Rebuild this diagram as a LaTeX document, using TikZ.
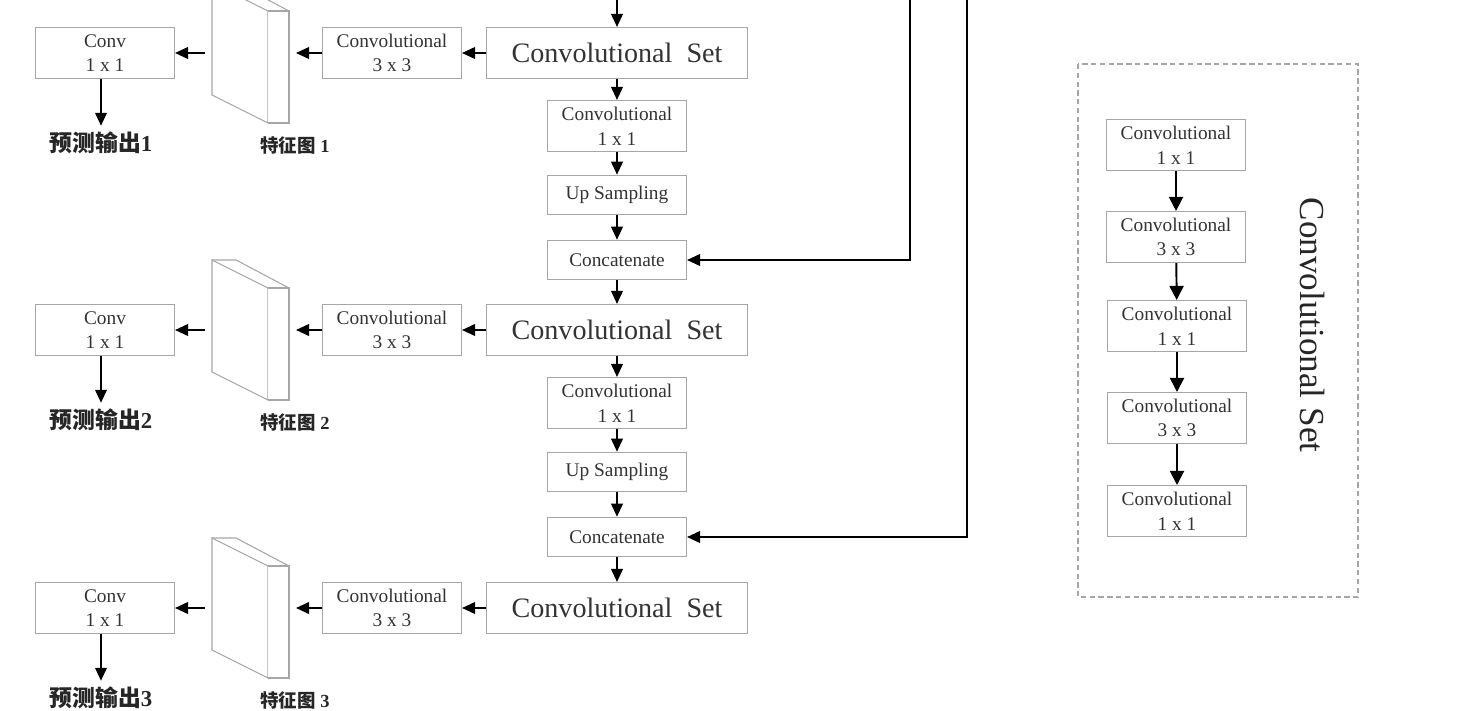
\documentclass[tikz,border=0pt]{standalone}
\usepackage{fontspec}
\setmainfont{Liberation Serif}
\newfontfamily\cjk{Noto Sans CJK SC}
\usepackage{tikz}
\usetikzlibrary{arrows.meta, positioning}
\begin{document}
\begin{tikzpicture}[x=0.02cm, y=-0.02cm,
    box/.style={draw=gray!70, line width=0.6pt, fill=white, text=black!80, align=center,
        minimum width=2.78cm, minimum height=1.02cm, inner sep=0pt,
        font=\fontsize{11}{14}\selectfont},
    setbox/.style={box, minimum width=5.22cm, font=\fontsize{16}{18}\selectfont},
    thinbox/.style={box, minimum height=0.79cm},
    flow/.style={-{Triangle[length=7.4pt, width=6.6pt]}, line width=1.1pt, black},
    bigflow/.style={flow, -{Triangle[length=8pt, width=8pt]}}]
    \useasboundingbox (0, 0) rectangle (1466, 710);
    % Three output rows
    \foreach \y/\n in {53/1, 330/2, 608/3} {
        \node [setbox] (set\n) at (617, \y) {Convolutional\ \ Set};
        \node [box] (conv\n) at (392, \y) {Convolutional\\3 x 3};
        \node [box] (out\n) at (105, \y) {Conv\\1 x 1};
        % Feature map
        \draw [gray!70, line width=0.6pt, fill=white] (212, \y-70) -- (268, \y-42) -- (268, \y+70) -- (212, \y+42) -- cycle;
        \draw [gray!70, line width=0.6pt, fill=white] (268, \y-42) -- (289, \y-42) -- (289, \y+70) -- (268, \y+70);
        \draw [gray!70, line width=0.6pt] (212, \y-70) -- (236, \y-70) -- (289, \y-42);
        \coordinate (mapR\n) at (296, \y);
        \coordinate (mapL\n) at (205, \y);
        \node [text=black!85, font=\fontsize{10.5}{12}\selectfont] (map\n) at (295, \y+92) {{\cjk\bfseries 特征图} \textbf{\n}};
        \node [text=black!85, font=\fontsize{13}{15}\selectfont] (pred\n) at (101, \y+90) {{\cjk\bfseries 预测输出}\textbf{\n}};
        % Arrows
        \draw [flow] (set\n) -- (conv\n);
        \draw [flow] (conv\n) -- (mapR\n);
        \draw [flow] (mapL\n) -- (out\n);
        \draw [flow] (out\n.south -| pred\n) -- (pred\n);
    }
    % Middle column
    \foreach \y/\n/\m in {53/1/2, 330/2/3} {
        \node [box] (one\n) at (617, \y+73) {Convolutional\\1 x 1};
        \node [thinbox] (up\n) at (617, \y+142) {Up Sampling};
        \node [thinbox] (cat\n) at (617, \y+207) {Concatenate};
        \draw [flow] (set\n) -- (one\n);
        \draw [flow] (one\n) -- (up\n);
        \draw [flow] (up\n) -- (cat\n);
        \draw [flow] (cat\n) -- (set\m);
    }
    % Inputs from the backbone
    \coordinate (top) at (617, 0);
    \coordinate (in1) at (910, 0);
    \coordinate (in2) at (967, 0);
    \draw [flow] (top) -- (set1);
    \draw [flow] (in1) |- (cat1);
    \draw [flow] (in2) |- (cat2);
    % Convolutional Set detail
    \draw [gray!70, line width=0.6pt, dash pattern=on 3pt off 2pt] (1078, 64) rectangle (1358, 597);
    \node [box] (s1) at (1176, 145) {Convolutional\\1 x 1};
    \node [box] (s2) at (1176, 237) {Convolutional\\3 x 3};
    \node [box] (s3) at (1177, 326) {Convolutional\\1 x 1};
    \node [box] (s4) at (1177, 418) {Convolutional\\3 x 3};
    \node [box] (s5) at (1177, 511) {Convolutional\\1 x 1};
    \foreach \a/\b in {s1/s2, s2/s3, s3/s4, s4/s5}
        \draw [bigflow] (\a) -- (\b);
    \node [rotate=-90, text=black!85, font=\fontsize{20}{22}\selectfont] (setname) at (1312, 325) {Convolutional Set};
\end{tikzpicture}
\end{document}
